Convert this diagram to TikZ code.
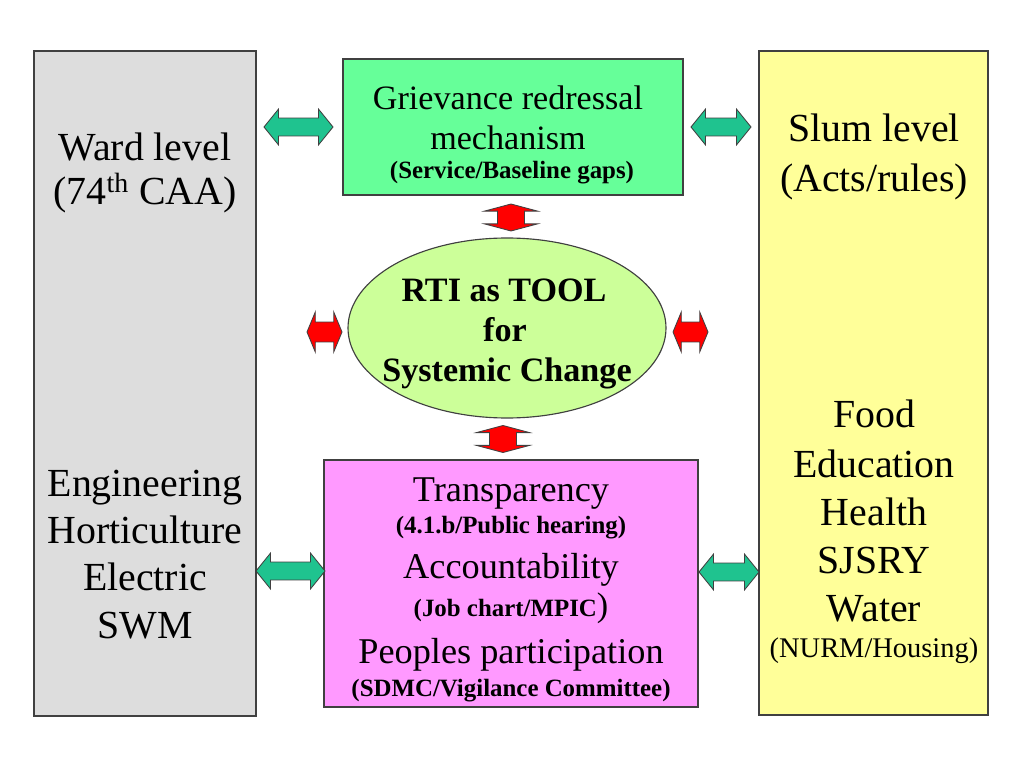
\documentclass[tikz,border=0pt]{standalone}
\usepackage{fontspec}
\setmainfont{Liberation Serif}
\usetikzlibrary{shapes.geometric,shapes.arrows}
\definecolor{grayfill}{HTML}{DDDDDD}
\definecolor{yellowfill}{HTML}{FFFF99}
\definecolor{greenfill}{HTML}{66FF99}
\definecolor{pinkfill}{HTML}{FF99FF}
\definecolor{ellfill}{HTML}{CCFF99}
\definecolor{tealfill}{HTML}{1FC38F}
\definecolor{redfill}{HTML}{FF0000}
\def\u{0.703125pt}
\tikzset{
  panel/.style={draw=black!75, line width=0.8pt, inner sep=0pt},
  txt/.style={anchor=base, inner sep=0pt, text=black},
  big/.style={txt, font=\fontsize{28}{32}\selectfont},
  mid/.style={txt, font=\fontsize{24}{28}\selectfont},
  pk/.style={txt, font=\fontsize{25.5}{30}\selectfont},
  smb/.style={txt, font=\fontsize{17.5}{20}\selectfont\bfseries},
  elb/.style={txt, font=\fontsize{24}{28}\selectfont\bfseries},
  tealarrow/.style={shape=double arrow, draw=black!75, line width=0.6pt, fill=tealfill,
    inner xsep=0pt, inner ysep=6pt, double arrow head extend=6.3pt,
    double arrow tip angle=102},
  redarrow/.style={shape=double arrow, draw=black!75, line width=0.6pt, fill=redfill,
    inner xsep=0pt},
}
\begin{document}
\begin{tikzpicture}[x=\u, y=-\u]
\useasboundingbox (0,0) rectangle (1024,768);
\fill[white] (0,0) rectangle (1024,768);
% panels
\node[panel, fill=grayfill, minimum width=222*\u, minimum height=665*\u] (ward) at (145,383.5) {};
\node[panel, fill=yellowfill, minimum width=229*\u, minimum height=664*\u] (slum) at (873.5,383) {};
\node[panel, fill=greenfill, minimum width=340*\u, minimum height=136*\u] (griev) at (513,127) {};
\node[panel, fill=pinkfill, minimum width=374*\u, minimum height=247*\u] (trans) at (511,583.5) {};
\node[panel, ellipse, fill=ellfill, minimum width=318*\u, minimum height=180*\u] (rti) at (507,328) {};
% left texts
\node[big] (w1) at (145,161) {Ward level};
\node[big] (w2) at (145,205) {(74\textsuperscript{th} CAA)};
\node[big] (e1) at (145,496) {Engineering};
\node[big] (e2) at (145,543) {Horticulture};
\node[big] (e3) at (145,590) {Electric};
\node[big] (e4) at (145,638) {SWM};
% right texts
\node[big] (s1) at (874,142) {Slum level};
\node[big] (s2) at (874,192) {(Acts/rules)};
\node[big] (f1) at (874,427) {Food};
\node[big] (f2) at (874,477) {Education};
\node[big] (f3) at (874,525) {Health};
\node[big] (f4) at (874,573) {SJSRY};
\node[big] (f5) at (874,621) {Water};
\node[txt, font=\fontsize{20}{24}\selectfont] (f6) at (874,657) {(NURM/Housing)};
% green box texts
\node[mid] (g1) at (508,110) {Grievance redressal};
\node[mid] (g2) at (508,150) {mechanism};
\node[smb] (g3) at (512,179) {(Service/Baseline gaps)};
% ellipse texts
\node[elb] (r1) at (504,302) {RTI as TOOL};
\node[elb] (r2) at (505,341) {for};
\node[elb] (r3) at (507,381) {Systemic Change};
% pink texts
\node[pk] (p1) at (511,501) {Transparency};
\node[smb] (p2) at (511,533) {(4.1.b/Public hearing)};
\node[pk] (p3) at (511,578) {Accountability};
\node[txt] (p4) at (511,616) {{\fontsize{17.5}{20}\selectfont\bfseries (Job chart/MPIC}{\fontsize{24}{28}\selectfont )}};
\node[pk] (p5) at (511,663) {Peoples participation};
\node[smb] (p6) at (511,696) {(SDMC/Vigilance Committee)};
% teal arrows
\node[tealarrow, minimum height=69*\u] (a1) at (298.5,127) {};
\node[tealarrow, minimum height=60*\u] (a2) at (721,127) {};
\node[tealarrow, minimum height=69*\u] (a3) at (290.5,571) {};
\node[tealarrow, minimum height=60*\u] (a4) at (729,572) {};
% red arrows
\node[redarrow, rotate=90, minimum height=27*\u, inner ysep=9.15pt,
  double arrow head extend=9.15pt, double arrow tip angle=150] (b1) at (511,217.5) {};
\node[redarrow, rotate=90, minimum height=27*\u, inner ysep=9.15pt,
  double arrow head extend=9.15pt, double arrow tip angle=150] (b2) at (503,439) {};
\node[redarrow, minimum height=35*\u, inner ysep=6.7pt,
  double arrow head extend=7pt, double arrow tip angle=135] (b3) at (324.5,332) {};
\node[redarrow, minimum height=35*\u, inner ysep=6.7pt,
  double arrow head extend=7pt, double arrow tip angle=135] (b4) at (690.5,332) {};
\end{tikzpicture}
\end{document}
